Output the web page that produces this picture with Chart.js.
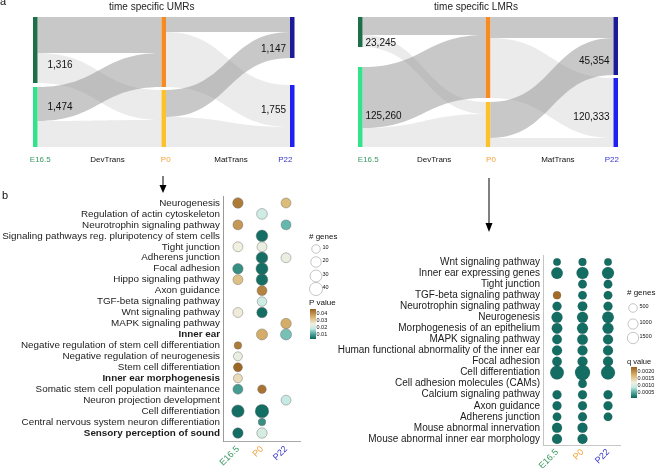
<!DOCTYPE html>
<html>
<head>
<meta charset="utf-8">
<script src="https://cdn.jsdelivr.net/npm/chart.js@4.4.0/dist/chart.umd.min.js"></script>
<style>
  html, body { margin: 0; padding: 0; background: #fff; }
  #page { position: relative; width: 658px; height: 468px; overflow: hidden; }
  canvas { position: absolute; }
</style>
</head>
<body>
<div id="page">
  <canvas id="umrSankey" width="329" height="172" style="left:0;top:0;width:329px;height:172px"></canvas>
  <canvas id="lmrSankey" width="329" height="172" style="left:329px;top:0;width:329px;height:172px"></canvas>
  <canvas id="lmrBubbles" width="329" height="298" style="left:329px;top:170px;width:329px;height:298px"></canvas>
  <canvas id="umrBubbles" width="360" height="298" style="left:0;top:170px;width:360px;height:298px"></canvas>
</div>
<script>
// ---- data ----
var stageNames = ['E16.5', 'P0', 'P22'];
var transNames = ['DevTrans', 'MatTrans'];

// sankey bands: [from node, to node, width at source, width at target]
// node 0 = upper box of a stage, node 1 = lower box
var umrDevFlows = [[0, 0, 36, 36], [0, 1, 30, 30], [1, 0, 34, 34], [1, 1, 26, 27]];
var umrMatFlows = [[0, 0, 15, 15], [0, 1, 55, 42], [1, 0, 27, 26], [1, 1, 30, 20]];
var umrCounts = ['1,316', '1,474', '1,147', '1,755'];
var lmrDevFlows = [[0, 0, 18, 18], [0, 1, 12, 12], [1, 0, 61, 63], [1, 1, 19, 33]];
var lmrMatFlows = [[0, 0, 21, 21], [0, 1, 60, 60], [1, 0, 36, 37], [1, 1, 9, 9]];
var lmrCounts = ['23,245', '125,260', '45,354', '120,333'];
var sankeyTotal = 130;

// enrichment of UMR-associated genes (columns: E16.5, P0, P22)
var umrTerms = ['Neurogenesis', 'Regulation of actin cytoskeleton', 'Neurotrophin signaling pathway',
  'Signaling pathways reg. pluripotency of stem cells', 'Tight junction', 'Adherens junction',
  'Focal adhesion', 'Hippo signaling pathway', 'Axon guidance', 'TGF-beta signaling pathway',
  'Wnt signaling pathway', 'MAPK signaling pathway', 'Inner ear',
  'Negative regulation of stem cell differentiation', 'Negative regulation of neurogenesis',
  'Stem cell differentiation', 'Inner ear morphogenesis', 'Somatic stem cell population maintenance',
  'Neuron projection development', 'Cell differentiation', 'Central nervous system neuron differentiation',
  'Sensory perception of sound'];
var umrBold = ['Inner ear', 'Inner ear morphogenesis', 'Sensory perception of sound'];
var umrGenes = [
  [20, null, 17], [null, 22, null], [17, null, 17], [null, 28, null], [17, 17, null],
  [null, 28, 17], [20, 31, null], [17, 28, null], [null, 17, null], [null, 15, null],
  [17, 20, null], [null, null, 20], [null, 24, 24], [6, null, null], [12, null, null],
  [12, null, null], [12, null, null], [17, 10, null], [null, null, 17], [34, 43, null],
  [null, 6, null], [20, 20, null]];
var umrPval = [
  [0.042, null, 0.033], [null, 0.019, null], [0.038, null, 0.012], [null, 0.004, null], [0.024, 0.023, null],
  [null, 0.004, 0.023], [0.0075, 0.004, null], [0.032, 0.004, null], [null, 0.041, null], [null, 0.019, null],
  [0.025, 0.004, null], [null, null, 0.035], [null, 0.035, 0.013], [0.042, null, null], [0.023, null, null],
  [0.045, null, null], [0.0275, null, null], [0.009, 0.043, null], [null, null, 0.018], [0.004, 0.004, null],
  [null, 0.0075, null], [0.004, 0.020, null]];
var umrGeneTicks = [10, 20, 30, 40];
var umrPTicks = [0.04, 0.03, 0.02, 0.01];

// enrichment of LMR-associated genes
var lmrTerms = ['Wnt signaling pathway', 'Inner ear expressing genes', 'Tight junction',
  'TGF-beta signaling pathway', 'Neurotrophin signaling pathway', 'Neurogenesis',
  'Morphogenesis of an epithelium', 'MAPK signaling pathway', 'Human functional abnormality of the inner ear',
  'Focal adhesion', 'Cell differentiation', 'Cell adhesion molecules (CAMs)', 'Calcium signaling pathway',
  'Axon guidance', 'Adherens junction', 'Mouse abnormal innervation', 'Mouse abnormal inner ear morphology'];
var lmrGenes = [
  [270, 330, 270], [1600, 1800, 1800], [null, 500, 500], [350, 500, 500], [610, 800, 610],
  [1330, 1330, 1600], [1160, 1330, 1330], [800, 1160, 935], [935, 935, 935], [800, 935, 935],
  [2680, 3600, 2930], [null, 500, null], [610, 610, 610], [610, 610, 610], [500, 610, 500],
  [935, 935, null], [935, 935, null]];
var lmrQval = [
  [0.00012, 0.00012, 0.00012], [0.00012, 0.00012, 0.00012], [null, 0.00012, 0.00012],
  [0.00222, 0.00012, 0.00012], [0.00012, 0.00012, 0.00012], [0.00012, 0.00012, 0.00012],
  [0.00012, 0.00012, 0.00012], [0.00012, 0.00012, 0.00012], [0.00012, 0.00012, 0.00012],
  [0.00012, 0.00012, 0.00012], [0.00012, 0.00012, 0.00012], [null, 0.00012, null],
  [0.00012, 0.00012, 0.00012], [0.00012, 0.00012, 0.00012], [0.00012, 0.00012, 0.00012],
  [0.00012, 0.00012, null], [0.00012, 0.00012, null]];
var lmrGeneTicks = [500, 1000, 1500];
var lmrQTicks = [0.0020, 0.0015, 0.0010, 0.0005];

// ---- style ----
Chart.defaults.font.family = "'Liberation Sans', Arial, Helvetica, sans-serif";
Chart.defaults.animation = false;
var FONT = "'Liberation Sans', Arial, Helvetica, sans-serif";
var stageColors = ['#3a9a62', '#f4a23c', '#3636c8'];
var nodeColors = [['#1e6e48', '#33e38b'], ['#f58b22', '#fcc22c'], ['#1b1b9a', '#2020f2']];
var darkBand = 'rgba(150,150,150,0.52)';
var lightBand = 'rgba(200,200,200,0.36)';
var NODE_W = 4.5;

var colorStops = [[0, [154, 97, 32]], [0.27, [217, 180, 110]], [0.5, [242, 239, 224]],
  [0.65, [198, 235, 228]], [0.8, [93, 179, 167]], [1, [10, 100, 90]]];

function colorAt(t) {
  t = Math.max(0, Math.min(1, t));
  for (var i = 1; i < colorStops.length; i++) {
    if (t <= colorStops[i][0]) {
      var a = colorStops[i - 1], b = colorStops[i];
      var f = (t - a[0]) / (b[0] - a[0]);
      var c = a[1].map(function (v, k) { return Math.round(v + (b[1][k] - v) * f); });
      return 'rgb(' + c.join(',') + ')';
    }
  }
  return 'rgb(10,100,90)';
}

function font(size, weight) { return (weight || 'normal') + ' ' + size + 'px ' + FONT; }

// ---- sankey ----
function layoutSankey(dev, mat) {
  var h = [[0, 0], [0, 0], [0, 0]];
  dev.forEach(function (f) { h[0][f[0]] += f[2]; h[1][f[1]] += f[3]; });
  mat.forEach(function (f) { h[2][f[1]] += f[3]; });
  var tops = h.map(function (s) { return [0, sankeyTotal - s[1]]; });
  function place(flows, k) {
    var out = flows.map(function (f) { return { to: f[1] }; });
    [0, 1].forEach(function (n) {
      var so = tops[k][n], to = tops[k + 1][n];
      [0, 1].forEach(function (m) {
        flows.forEach(function (f, i) {
          if (f[0] === n && f[1] === m) { out[i].s0 = so; out[i].s1 = so + f[2]; so += f[2]; }
          if (f[1] === n && f[0] === m) { out[i].t0 = to; out[i].t1 = to + f[3]; to += f[3]; }
        });
      });
    });
    return out;
  }
  return { heights: h, tops: tops, bands: [place(dev, 0), place(mat, 1)] };
}

// which band each count belongs to: [transition, band index, side]
var countAnchors = [[0, 1, 's'], [0, 2, 's'], [1, 2, 't'], [1, 1, 't']];

function sankeyPlugin(opt) {
  return {
    id: 'sankeyDraw',
    afterDraw: function (chart) {
      var ctx = chart.ctx, xs = chart.scales.x, ys = chart.scales.y;
      var L = layoutSankey(opt.dev, opt.mat);
      ctx.save();
      [1, 0].forEach(function (shade) {
        L.bands.forEach(function (bands, k) {
          var x0 = xs.getPixelForValue(k) + NODE_W, x1 = xs.getPixelForValue(k + 1), xm = (x0 + x1) / 2;
          bands.forEach(function (b) {
            if (b.to !== shade) return;
            var a0 = ys.getPixelForValue(b.s0), a1 = ys.getPixelForValue(b.s1);
            var c0 = ys.getPixelForValue(b.t0), c1 = ys.getPixelForValue(b.t1);
            ctx.beginPath();
            ctx.moveTo(x0, a0);
            ctx.bezierCurveTo(xm, a0, xm, c0, x1, c0);
            ctx.lineTo(x1, c1);
            ctx.bezierCurveTo(xm, c1, xm, a1, x0, a1);
            ctx.closePath();
            ctx.fillStyle = shade === 0 ? darkBand : lightBand;
            ctx.fill();
          });
        });
      });
      L.heights.forEach(function (hs, k) {
        hs.forEach(function (hv, n) {
          var y0 = ys.getPixelForValue(L.tops[k][n]), y1 = ys.getPixelForValue(L.tops[k][n] + hv);
          ctx.fillStyle = nodeColors[k][n];
          ctx.fillRect(xs.getPixelForValue(k), y0, NODE_W, y1 - y0);
        });
      });
      // counts
      ctx.font = font(10);
      ctx.fillStyle = '#111';
      ctx.textBaseline = 'middle';
      countAnchors.forEach(function (a, i) {
        var b = L.bands[a[0]][a[1]];
        if (a[2] === 's') {
          ctx.textAlign = 'left';
          ctx.fillText(opt.counts[i], xs.getPixelForValue(0) + NODE_W + opt.countGap,
            ys.getPixelForValue((b.s0 + b.s1) / 2) + opt.countNudge[i]);
        } else {
          ctx.textAlign = 'right';
          ctx.fillText(opt.counts[i], xs.getPixelForValue(2) - 4,
            ys.getPixelForValue((b.t0 + b.t1) / 2) + opt.countNudge[i]);
        }
      });
      // stage labels
      var names = [stageNames[0], transNames[0], stageNames[1], transNames[1], stageNames[2]];
      var cols = [stageColors[0], '#111', stageColors[1], '#111', stageColors[2]];
      var yl = ys.getPixelForValue(sankeyTotal) + 13;
      ctx.font = font(8);
      ctx.textAlign = 'center';
      names.forEach(function (t, i) {
        ctx.fillStyle = cols[i];
        ctx.fillText(t, xs.getPixelForValue(i / 2) + NODE_W / 2 + opt.stageNudge[i], yl);
      });
      // title
      ctx.font = font(10);
      ctx.fillStyle = '#222';
      ctx.fillText(opt.title, (chart.chartArea.left + chart.chartArea.right + NODE_W) / 2 + opt.titleShift, 7);
      if (opt.panel) {
        ctx.textAlign = 'left';
        ctx.textBaseline = 'alphabetic';
        ctx.font = font(11);
        ctx.fillStyle = '#111';
        ctx.fillText(opt.panel, 0, 5);
      }
      ctx.restore();
    }
  };
}

function makeSankey(id, opt, pad) {
  return new Chart(document.getElementById(id), {
    type: 'scatter',
    data: { datasets: [] },
    options: {
      responsive: false,
      layout: { padding: pad },
      plugins: { legend: { display: false }, tooltip: { enabled: false } },
      scales: {
        x: { type: 'linear', min: 0, max: 2, display: false },
        y: { type: 'linear', min: 0, max: sankeyTotal, reverse: true, display: false }
      }
    },
    plugins: [sankeyPlugin(opt)]
  });
}

makeSankey('umrSankey', {
  dev: umrDevFlows, mat: umrMatFlows, counts: umrCounts, title: 'time specific UMRs',
  titleShift: -12, countGap: 10, countNudge: [-3, 3, 4, 4], stageNudge: [5, 8, 2, 3, -7], panel: 'a'
}, { left: 33, right: 39, top: 17, bottom: 25 });

makeSankey('lmrSankey', {
  dev: lmrDevFlows, mat: lmrMatFlows, counts: lmrCounts, title: 'time specific LMRs',
  titleShift: -12, countGap: 3, countNudge: [2, 19, 5, 9], stageNudge: [8, 10, 3, 6, -4]
}, { left: 29, right: 44.5, top: 17, bottom: 25 });

// ---- bubbles ----
function drawArrow(ctx, x, y0, y1, headLen, headW) {
  ctx.strokeStyle = '#000';
  ctx.fillStyle = '#000';
  ctx.lineWidth = 1;
  ctx.beginPath();
  ctx.moveTo(x, y0);
  ctx.lineTo(x, y1 - headLen + 1);
  ctx.stroke();
  ctx.beginPath();
  ctx.moveTo(x - headW / 2, y1 - headLen);
  ctx.lineTo(x + headW / 2, y1 - headLen);
  ctx.lineTo(x, y1);
  ctx.closePath();
  ctx.fill();
}

function legendPlugin(o) {
  return {
    id: 'bubbleLegend',
    afterDraw: function (chart) {
      var ctx = chart.ctx;
      ctx.save();
      ctx.textAlign = 'left';
      ctx.textBaseline = 'middle';
      ctx.fillStyle = '#111';
      ctx.font = font(8);
      ctx.fillText('# genes', o.lx, o.genesY);
      o.geneTicks.forEach(function (g, i) {
        var cy = o.circleY[i];
        ctx.beginPath();
        ctx.arc(o.cx, cy, o.radius(g), 0, Math.PI * 2);
        ctx.fillStyle = '#fff';
        ctx.fill();
        ctx.strokeStyle = '#b8b8b8';
        ctx.lineWidth = 0.8;
        ctx.stroke();
        ctx.fillStyle = '#111';
        ctx.font = font(5.5);
        ctx.fillText(String(g), o.cx + 6.5, cy - 1.5);
      });
      ctx.font = font(o.valueTitleSize);
      ctx.fillText(o.valueTitle, o.lx, o.valueY);
      var grad = ctx.createLinearGradient(0, o.barTop, 0, o.barBot);
      colorStops.forEach(function (s) { grad.addColorStop(s[0], colorAt(s[0])); });
      ctx.fillStyle = grad;
      ctx.fillRect(o.barX, o.barTop, 6, o.barBot - o.barTop);
      ctx.fillStyle = '#111';
      ctx.font = font(5.5);
      o.valueTicks.forEach(function (v) {
        var y = o.barTop + (o.vTop - v) / (o.vTop - o.vBot) * (o.barBot - o.barTop);
        ctx.fillText(v.toFixed(o.digits), o.barX + 6.5, y);
      });
      drawArrow(ctx, o.arrow[0], o.arrow[1], o.arrow[2], o.arrow[3], 7);
      if (o.panel) {
        ctx.font = font(11);
        ctx.textBaseline = 'alphabetic';
        ctx.fillStyle = '#111';
        ctx.fillText(o.panel, 2, 29);
      }
      ctx.restore();
    }
  };
}

function makeBubbles(id, c) {
  var pts = [], cols = [];
  c.genes.forEach(function (row, i) {
    row.forEach(function (g, j) {
      if (g === null) return;
      pts.push({ x: j, y: i, r: c.radius(g) });
      cols.push(colorAt((c.vTop - c.values[i][j]) / (c.vTop - c.vBot)));
    });
  });
  var rows = c.terms.map(function (t, i) { return { value: i }; });
  return new Chart(document.getElementById(id), {
    type: 'bubble',
    data: { datasets: [{ data: pts, backgroundColor: cols, borderColor: c.edge, borderWidth: c.edgeW, clip: false }] },
    options: {
      responsive: false,
      layout: { padding: c.pad },
      plugins: { legend: { display: false }, tooltip: { enabled: false } },
      scales: {
        x: {
          type: 'linear', min: c.xMin, max: c.xMax,
          afterBuildTicks: function (s) { s.ticks = [{ value: 0 }, { value: 1 }, { value: 2 }]; },
          afterFit: function (s) { s.height = c.xAxisH; },
          grid: { display: false, drawTicks: false },
          border: c.xBorder,
          ticks: {
            autoSkip: false, minRotation: 45, maxRotation: 45, padding: 2,
            font: { size: 9 },
            color: function (ctx) { return stageColors[ctx.index]; },
            callback: function (v) { return stageNames[v]; }
          }
        },
        y: {
          type: 'linear', min: -0.6, max: c.yMax, reverse: true,
          afterBuildTicks: function (s) { s.ticks = rows.slice(); },
          afterFit: function (s) { s.width = c.yAxisW; },
          grid: { display: false, drawTicks: false },
          border: c.yBorder,
          ticks: {
            autoSkip: false, padding: 3, color: '#1b1b1b',
            font: function (ctx) {
              var t = ctx.tick ? c.terms[ctx.tick.value] : '';
              return { size: c.labelSize, weight: c.bold.indexOf(t) >= 0 ? 'bold' : 'normal' };
            },
            callback: function (v) { return c.terms[v]; }
          }
        }
      }
    },
    plugins: [legendPlugin(c.legend)]
  });
}

function umrRadius(g) { return 2.0 + 0.72 * Math.sqrt(g); }
function lmrRadius(g) { return 2.4 + 0.085 * Math.sqrt(g); }

makeBubbles('umrBubbles', {
  terms: umrTerms, bold: umrBold, genes: umrGenes, values: umrPval, radius: umrRadius,
  vTop: 0.0457, vBot: 0.0029, xMin: -0.62, xMax: 2.58, yMax: 21.8, labelSize: 9.85,
  yAxisW: 223, xAxisH: 26.2, pad: { left: 0, right: 60, top: 26.4, bottom: 0 },
  edge: 'rgba(100,100,100,0.6)', edgeW: 0.7,
  yBorder: { color: '#9a9a9a', width: 1 }, xBorder: { color: '#a8a8a8', width: 1 },
  legend: {
    lx: 309, genesY: 67, cx: 316, circleY: [79, 92, 106, 119], geneTicks: umrGeneTicks, radius: umrRadius,
    valueTitle: 'P value', valueTitleSize: 8, valueY: 133, barX: 310, barTop: 139, barBot: 169,
    vTop: 0.0457, vBot: 0.0029, valueTicks: umrPTicks, digits: 2,
    arrow: [163, 6, 23, 8], panel: 'b'
  }
});

makeBubbles('lmrBubbles', {
  terms: lmrTerms, bold: [], genes: lmrGenes, values: lmrQval, radius: lmrRadius,
  vTop: 0.00229, vBot: 0.000071, xMin: -0.55, xMax: 2.47, yMax: 16.55, labelSize: 10,
  yAxisW: 214, xAxisH: 23, pad: { left: 0, right: 38, top: 85.4, bottom: 0 },
  edge: 'rgba(40,40,40,0.25)', edgeW: 0.5,
  yBorder: { color: '#c4c4c4', width: 1, dash: [1, 2] }, xBorder: { color: '#c8c8c8', width: 1 },
  legend: {
    lx: 298, genesY: 123, cx: 304, circleY: [138, 154, 168], geneTicks: lmrGeneTicks, radius: lmrRadius,
    valueTitle: 'q value', valueTitleSize: 7.5, valueY: 192, barX: 302, barTop: 197, barBot: 228,
    vTop: 0.00229, vBot: 0.000071, valueTicks: lmrQTicks, digits: 4,
    arrow: [160, 8, 62, 9]
  }
});
</script>
</body>
</html>
